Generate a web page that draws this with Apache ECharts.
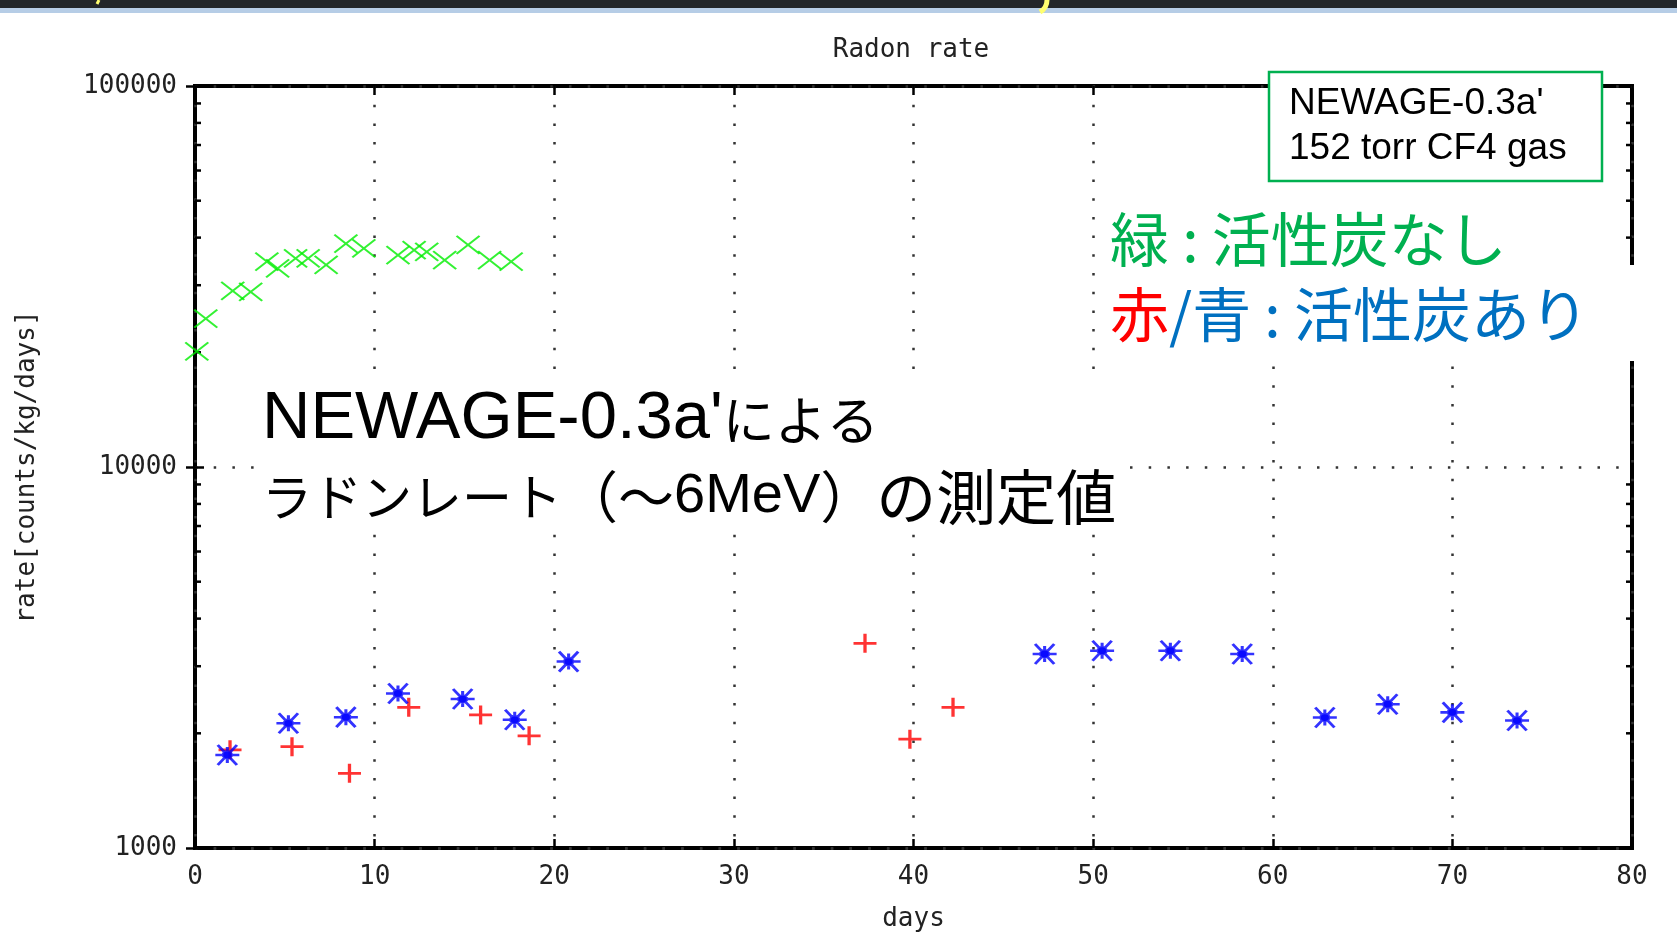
<!DOCTYPE html>
<html>
<head>
<meta charset="utf-8">
<title>Radon rate</title>
<script src="https://cdn.jsdelivr.net/npm/echarts@6/dist/echarts.min.js"></script>
<style>
  html, body { margin: 0; padding: 0; background: #fff; overflow: hidden; }
  #chart { width: 1677px; height: 932px; }
</style>
</head>
<body>
<div id="chart"></div>
<script>
// Radon rate measured with NEWAGE-0.3a' (152 torr CF4 gas)
// days since start vs. rate in counts/kg/days

// without activated charcoal (green crosses)
const greenDays = [0.1, 0.6, 2.1, 3.1, 4.0, 4.6, 5.6, 6.3, 7.3, 8.4, 9.4, 11.3, 12.2, 12.9, 13.9, 15.2, 16.4, 17.6];
const greenRate = [20100, 24500, 29000, 28800, 34600, 33200, 35300, 35300, 33900, 38600, 37500, 36000, 37100, 36700, 34900, 38300, 34900, 34600];

// with activated charcoal (red plus)
const redDays = [1.95, 5.4, 8.6, 11.9, 15.9, 18.6, 37.3, 39.8, 42.2];
const redRate = [1810, 1845, 1570, 2340, 2235, 1970, 3445, 1930, 2340];

// with activated charcoal (blue stars)
const blueDays = [1.8, 5.2, 8.4, 11.3, 14.9, 17.8, 20.8, 47.3, 50.5, 54.3, 58.3, 62.9, 66.4, 70.0, 73.6];
const blueRate = [1755, 2125, 2205, 2545, 2460, 2170, 3085, 3230, 3295, 3295, 3230, 2200, 2385, 2270, 2160];

// axis ranges and ticks
const xMin = 0, xMax = 80, xStep = 10;
const yMin = 1000, yMax = 100000;
const yMinorTicks = [2000, 3000, 4000, 5000, 6000, 7000, 8000, 9000,
                     20000, 30000, 40000, 50000, 60000, 70000, 80000, 90000];

const zip = (a, b) => a.map((v, i) => [v, b[i]]);

const plotFont = "'DejaVu Sans Mono', monospace";
const latin = "'Liberation Sans', Arial, sans-serif";
const cjk = "'Noto Sans CJK JP', sans-serif";
const dotted = { color: '#333', width: 2.5, type: [2.5, 16.2] };
const majorTick = { show: true, inside: true, length: 9, lineStyle: { color: '#000', width: 2.5 } };

const chart = echarts.init(document.getElementById('chart'), null, { renderer: 'canvas', width: 1677, height: 932 });

chart.setOption({
  backgroundColor: '#fff',
  animation: false,
  grid: {
    left: 195, top: 86, right: 45, bottom: 84,
    outerBoundsMode: 'none',
    show: true, borderColor: '#000', borderWidth: 4, backgroundColor: '#fff'
  },
  xAxis: [{
    type: 'value', min: xMin, max: xMax, interval: xStep,
    name: 'days', nameLocation: 'middle', nameGap: 58,
    nameTextStyle: { fontFamily: plotFont, fontSize: 26, color: '#222' },
    axisLine: { show: false },
    axisTick: majorTick,
    axisLabel: { fontFamily: plotFont, fontSize: 26, color: '#222', margin: 16 },
    splitLine: { show: true, lineStyle: dotted }
  }, {
    type: 'value', min: xMin, max: xMax, interval: xStep, position: 'top',
    axisLine: { show: false }, axisTick: majorTick,
    axisLabel: { show: false }, splitLine: { show: false }
  }],
  yAxis: [{
    type: 'log', logBase: 10, min: yMin, max: yMax,
    name: 'rate[counts/kg/days]', nameLocation: 'middle', nameGap: 155,
    nameTextStyle: { fontFamily: plotFont, fontSize: 26, color: '#222' },
    axisLine: { show: false },
    axisTick: majorTick,
    axisLabel: { fontFamily: plotFont, fontSize: 26, color: '#222', margin: 18,
                 formatter: v => String(Math.round(v)) },
    splitLine: { show: true, lineStyle: dotted }
  }, {
    type: 'log', logBase: 10, min: yMin, max: yMax, position: 'right',
    axisLine: { show: false }, axisTick: majorTick,
    axisLabel: { show: false }, splitLine: { show: false }
  }],
  series: [
    {
      // minor log ticks on the left and right frame
      type: 'custom',
      silent: true,
      data: yMinorTicks.map(v => [xMin, v]),
      encode: { x: 0, y: 1 },
      renderItem: (params, api) => {
        const v = api.value(1);
        const l = api.coord([xMin, v]);
        const r = api.coord([xMax, v]);
        const st = { stroke: '#000', lineWidth: 2.5 };
        return {
          type: 'group',
          children: [
            { type: 'line', shape: { x1: l[0], y1: l[1], x2: l[0] + 6, y2: l[1] }, style: st },
            { type: 'line', shape: { x1: r[0], y1: r[1], x2: r[0] - 6, y2: r[1] }, style: st }
          ]
        };
      },
      z: 3
    },
    {
      name: 'no charcoal',
      type: 'scatter',
      data: zip(greenDays, greenRate),
      symbol: 'path://M0,0L10,10M10,0L0,10',
      symbolSize: [23, 18],
      itemStyle: { color: '#00ee00', borderColor: '#00ee00', borderWidth: 2 },
      z: 4
    },
    {
      name: 'charcoal red',
      type: 'scatter',
      data: zip(redDays, redRate),
      symbol: 'path://M0,5L10,5M5,0L5,10',
      symbolSize: [23, 19],
      itemStyle: { color: '#ff0000', borderColor: '#ff0000', borderWidth: 3 },
      z: 5
    },
    {
      name: 'charcoal blue',
      type: 'scatter',
      data: zip(blueDays, blueRate),
      symbol: 'path://M0,5L10,5M5,1L5,9M1,0L9,10M9,0L1,10M3.3,5A1.7,1.7 0 1,0 6.7,5A1.7,1.7 0 1,0 3.3,5Z',
      symbolSize: [24, 20],
      itemStyle: { color: '#0000ff', borderColor: '#0000ff', borderWidth: 2.8 },
      z: 6
    }
  ],
  graphic: [
    // slide header strip
    { type: 'rect', z: 100, shape: { x: 0, y: 0, width: 1677, height: 8 }, style: { fill: '#22262a' } },
    { type: 'rect', z: 100, shape: { x: 0, y: 8, width: 1677, height: 5 }, style: { fill: '#b6cde6' } },
    { type: 'bezierCurve', z: 101, shape: { x1: 1047, y1: 0, cpx1: 1047, cpy1: 8, x2: 1040, y2: 12 },
      style: { stroke: '#ffff70', lineWidth: 5, fill: null } },
    { type: 'line', z: 101, shape: { x1: 99, y1: 0, x2: 97, y2: 4 }, style: { stroke: '#ffff70', lineWidth: 3 } },

    // plot title
    { type: 'text', z: 101, style: { text: 'Radon rate', x: 911, y: 50, align: 'center', verticalAlign: 'middle',
      fill: '#222', fontFamily: plotFont, fontSize: 26 } },

    // annotation backgrounds
    { type: 'rect', z: 100, shape: { x: 257, y: 385, width: 866, height: 144 }, style: { fill: '#fff' } },
    { type: 'rect', z: 100, shape: { x: 1100, y: 190, width: 500, height: 75 }, style: { fill: '#fff' } },
    { type: 'rect', z: 100, shape: { x: 1100, y: 265, width: 540, height: 96 }, style: { fill: '#fff' } },

    // detector / gas box
    { type: 'rect', z: 102, shape: { x: 1269, y: 72, width: 333, height: 109 },
      style: { fill: '#fff', stroke: '#00b050', lineWidth: 2.5 } },
    { type: 'text', z: 103, style: { text: "NEWAGE-0.3a'", x: 1289, y: 104, fill: '#000',
      fontFamily: latin, fontSize: 37, verticalAlign: 'middle' } },
    { type: 'text', z: 103, style: { text: '152 torr CF4 gas', x: 1289, y: 149, fill: '#000',
      fontFamily: latin, fontSize: 37, verticalAlign: 'middle' } },

    // colour key
    { type: 'text', z: 103, style: {
      text: '{g|緑 : 活性炭なし}', x: 1110, y: 240, verticalAlign: 'middle',
      rich: { g: { fill: '#00b050', fontFamily: cjk, fontSize: 59 } }
    } },
    { type: 'text', z: 103, style: {
      text: '{r|赤}{b|/青 : 活性炭あり}', x: 1110, y: 315, verticalAlign: 'middle',
      rich: {
        r: { fill: '#ff0000', fontFamily: cjk, fontSize: 59 },
        b: { fill: '#0070c0', fontFamily: cjk, fontSize: 59 }
      }
    } },

    // measurement description
    { type: 'text', z: 103, style: {
      text: "{a|NEWAGE-0.3a'}{j|による}", x: 262, y: 420, verticalAlign: 'middle',
      rich: {
        a: { fill: '#000', fontFamily: latin, fontSize: 67 },
        j: { fill: '#000', fontFamily: cjk, fontSize: 52 }
      }
    } },
    { type: 'text', z: 103, style: {
      text: '{k|ラドンレート}{p|（～}{a|6MeV}{p|）}{m|の測定値}', x: 262, y: 497, verticalAlign: 'middle',
      rich: {
        k: { fill: '#000', fontFamily: cjk, fontSize: 50 },
        p: { fill: '#000', fontFamily: cjk, fontSize: 56 },
        a: { fill: '#000', fontFamily: latin, fontSize: 56 },
        m: { fill: '#000', fontFamily: cjk, fontSize: 60 }
      }
    } }
  ]
});
</script>
</body>
</html>
